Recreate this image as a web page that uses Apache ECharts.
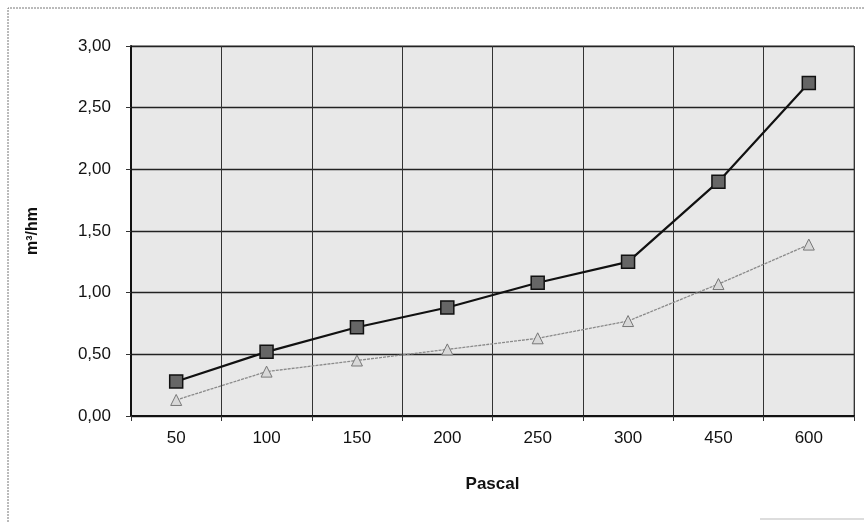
<!DOCTYPE html>
<html><head><meta charset="utf-8">
<script src="https://cdn.jsdelivr.net/npm/echarts@6/dist/echarts.min.js"></script>
<style>html,body{margin:0;padding:0;background:#fff}#c{width:864px;height:522px}</style>
</head><body><div id="c"></div>
<script>
const categories = ['50','100','150','200','250','300','450','600'];
const seriesDark = [0.28, 0.52, 0.72, 0.88, 1.08, 1.25, 1.90, 2.70];
const seriesLight = [0.13, 0.36, 0.45, 0.54, 0.63, 0.77, 1.07, 1.39];
const yTicks = [0, 0.5, 1, 1.5, 2, 2.5, 3];

const chart = echarts.init(document.getElementById('c'));
const font = '"Liberation Sans", Arial, sans-serif';
chart.setOption({
  backgroundColor: '#fff',
  animation: false,
  graphic: [
    {type:'polyline', shape:{points:[[8,522],[8,8],[864,8]]}, style:{stroke:'#777', lineWidth:1, fill:null, lineDash:[2,1]}},
    {type:'line', shape:{x1:760,y1:519,x2:864,y2:519}, style:{stroke:'#bbb', lineWidth:1}}
  ],
  grid: {left:131, right:10, top:46, bottom:106, show:true, backgroundColor:'#e8e8e8', borderColor:'#666', borderWidth:1},
  xAxis: {
    type:'category', data:categories, boundaryGap:true,
    name:'Pascal', nameLocation:'middle', nameGap:60,
    nameTextStyle:{fontFamily:font, fontSize:17, fontWeight:'bold', color:'#111'},
    axisLine:{lineStyle:{color:'#111', width:2}},
    axisTick:{show:true, length:5, lineStyle:{color:'#333'}},
    axisLabel:{fontFamily:font, fontSize:17, color:'#111', margin:14},
    splitLine:{show:true, lineStyle:{color:'#333', width:1}}
  },
  yAxis: {
    type:'value', min:0, max:3, interval:0.5,
    name:'m³/hm', nameLocation:'middle', nameGap:90, nameRotate:90,
    nameTextStyle:{fontFamily:font, fontSize:16, fontWeight:'bold', color:'#111'},
    axisLine:{show:true, lineStyle:{color:'#111', width:2}},
    axisTick:{show:true, length:5, lineStyle:{color:'#333'}},
    axisLabel:{fontFamily:font, fontSize:17, color:'#111', margin:20,
      formatter: v => yTicks.includes(v) ? v.toFixed(2).replace('.', ',') : ''},
    splitLine:{show:true, lineStyle:{color:'#222', width:1.3}}
  },
  series: [
    {type:'line', data:seriesLight, symbol:'triangle', symbolSize:11,
     lineStyle:{color:'#8a8a8a', width:1.3, type:[3,1]},
     itemStyle:{color:'#d8d8d8', borderColor:'#777', borderWidth:1}},
    {type:'line', data:seriesDark, symbol:'rect', symbolSize:13,
     lineStyle:{color:'#111', width:2.2},
     itemStyle:{color:'#666', borderColor:'#111', borderWidth:1.5}}
  ]
});
</script></body></html>
